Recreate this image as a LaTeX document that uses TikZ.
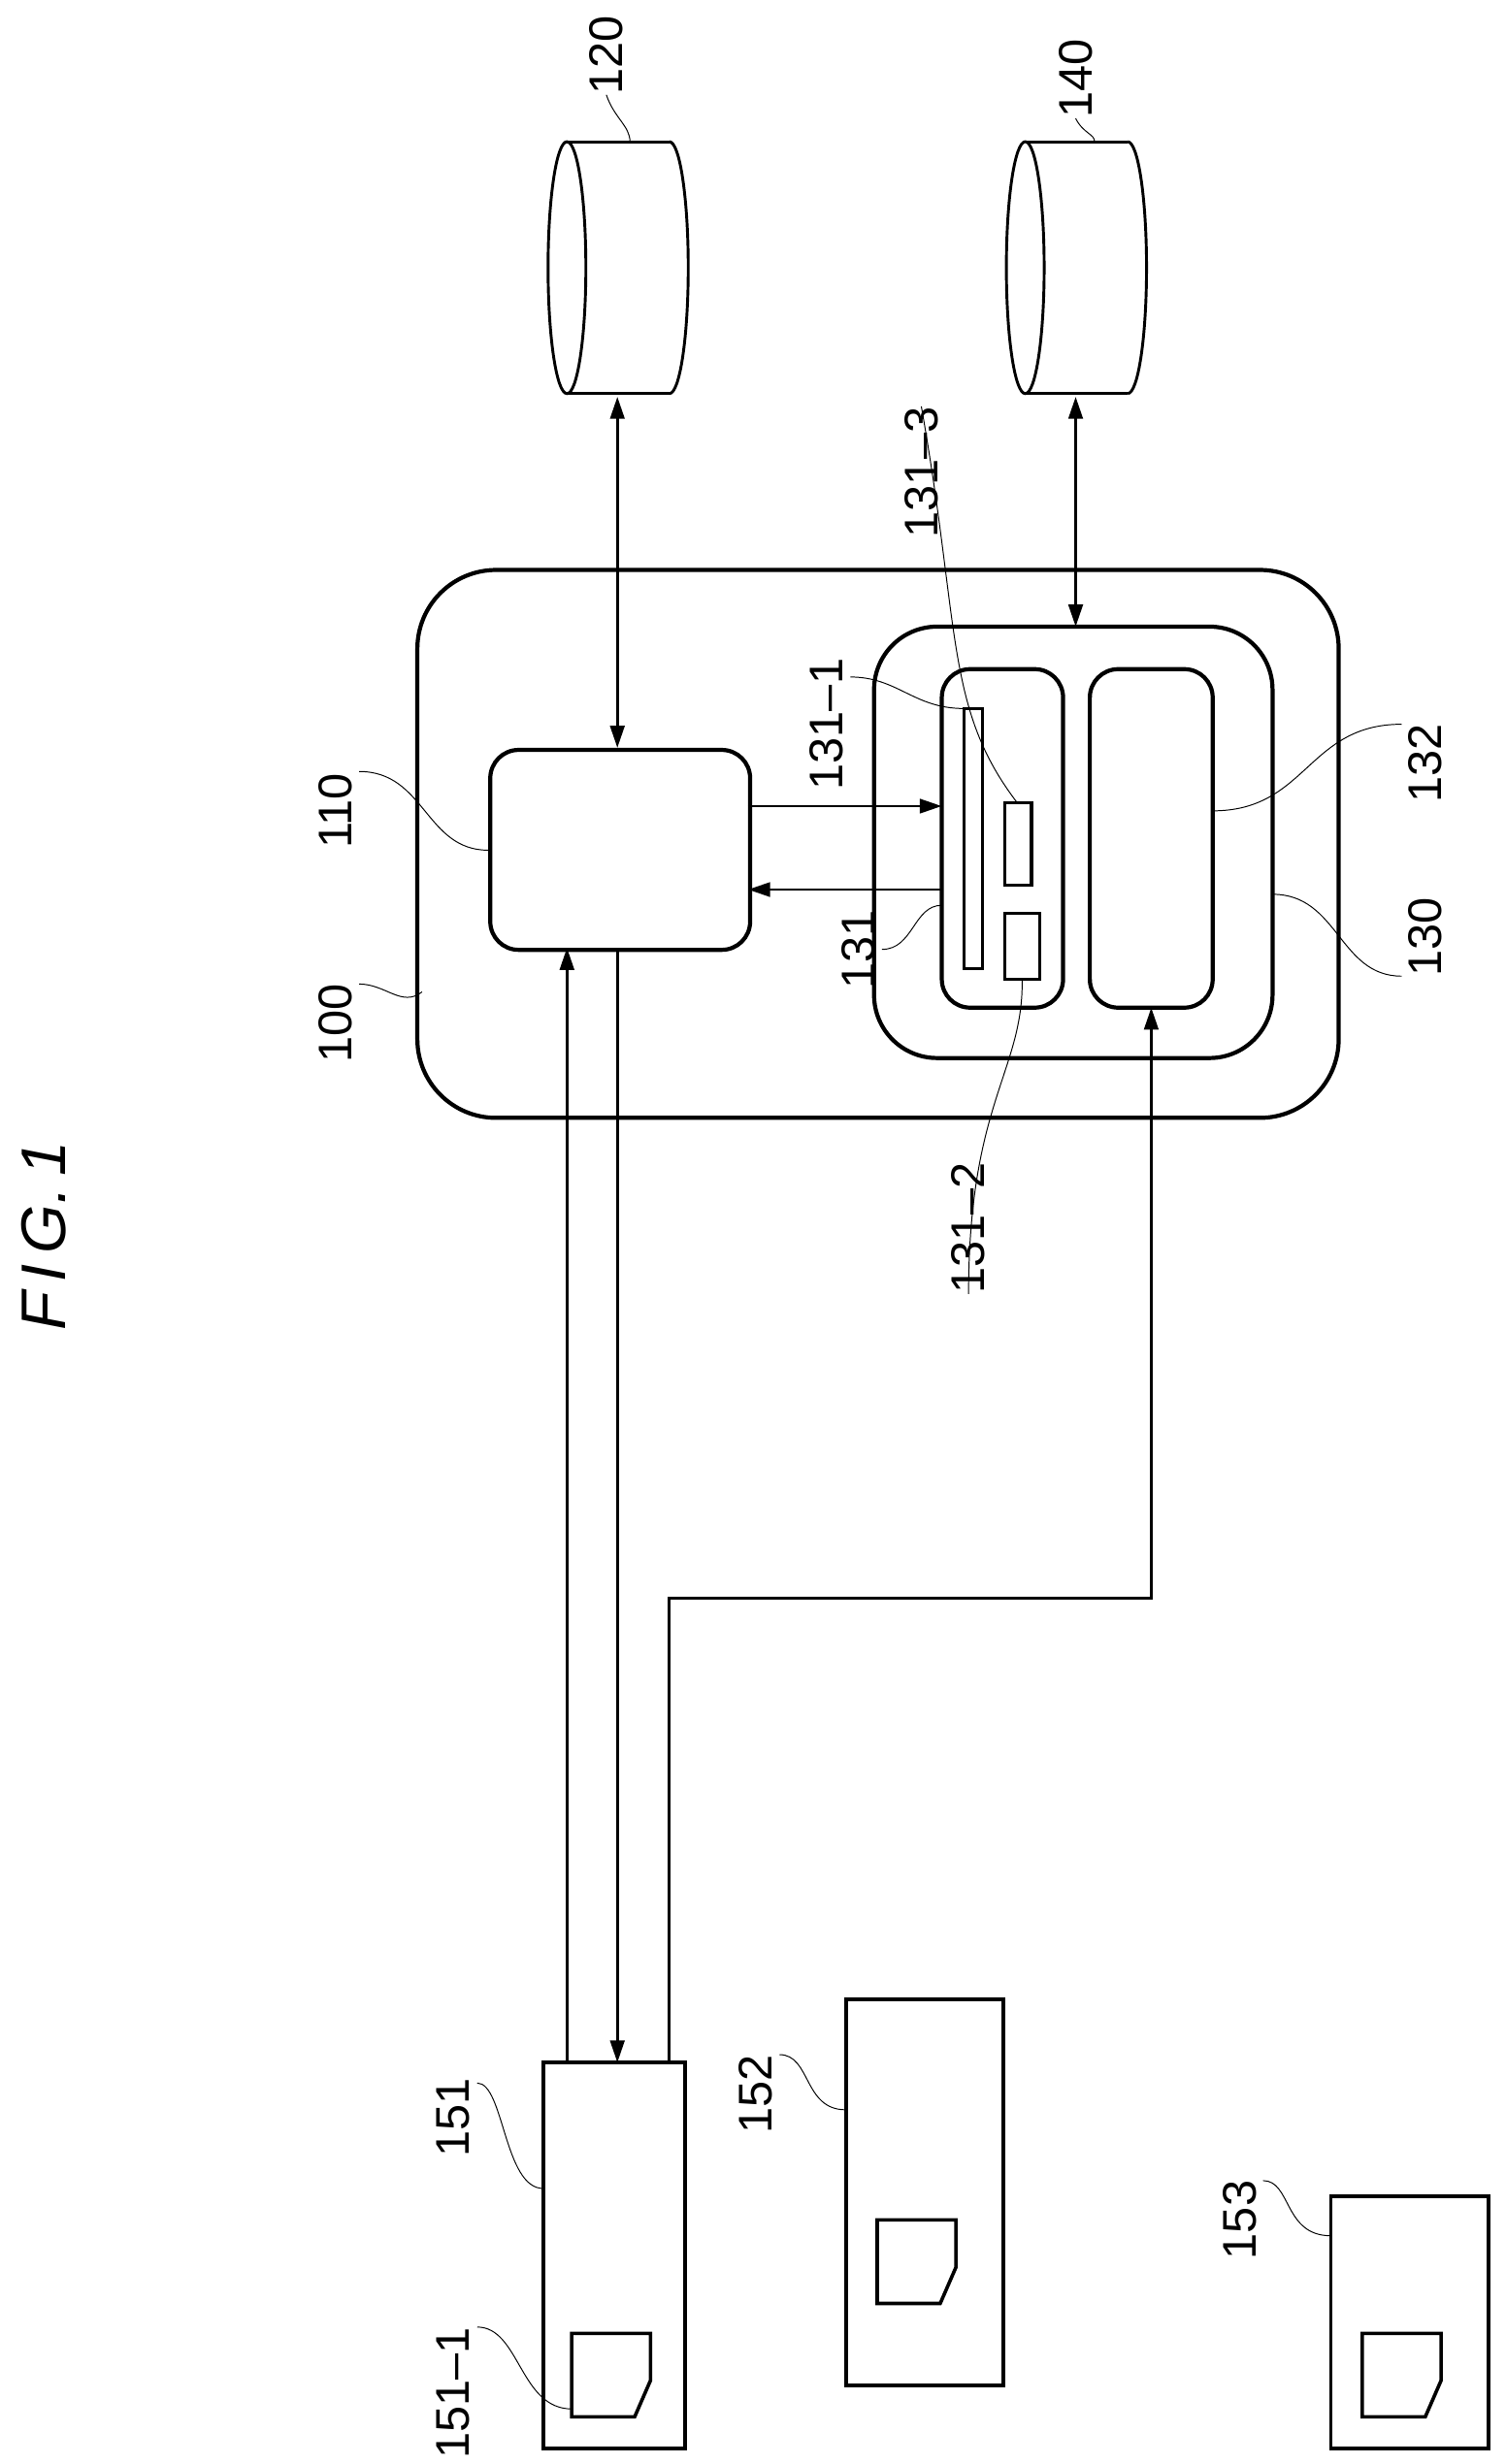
\documentclass[tikz,border=0pt]{standalone}
\usepackage{fontspec}
\setmainfont{Liberation Sans}
\usetikzlibrary{arrows.meta}
\begin{document}
\begin{tikzpicture}[x=1pt,y=-1pt,
  box/.style={draw,line width=2.6pt,rounded corners=#1},
  thk/.style={line width=1.8pt},
  lead/.style={line width=0.6pt},
  arr/.style={thk,-{Triangle[length=14pt,width=9pt]}},
  darr/.style={thk,{Triangle[length=14pt,width=9pt]}-{Triangle[length=14pt,width=9pt]}},
  lbl/.style={font=\fontsize{30}{30}\selectfont,rotate=90,inner sep=0pt}]
\useasboundingbox (0,0) rectangle (956,1565);
% boxes
\draw[box=50pt] (265,362) rectangle (850,710);
\node[draw,line width=2.6pt,rounded corners=18pt,minimum width=165pt,minimum height=127pt,anchor=north west] (n110) at (310,475) {};
\draw[box=40pt] (555,398) rectangle (808,672);
\coordinate (n130top) at (683,398);
\draw[box=18pt] (598,425) rectangle (675,640);
\draw[line width=2pt] (612,450) rectangle (624,615);
\draw[line width=2pt] (638,510) rectangle (655,562);
\draw[line width=2pt] (638,580) rectangle (660,622);
\draw[box=18pt] (692,425) rectangle (770,640);
\coordinate (n132b) at (731,640);
\coordinate (n131a) at (598,512);
\coordinate (n131b) at (598,565);
% cylinders
\foreach \cx/\nm in {392/c120,683/c140}{
  \draw[thk] (\cx-32,90) -- (\cx+33,90);
  \draw[thk] (\cx-32,250) -- (\cx+33,250);
  \draw[thk] (\cx-32,170) ellipse (12 and 80);
  \draw[thk] (\cx+33,90) arc[start angle=-90,end angle=90,x radius=12,y radius=80];
  \coordinate (\nm) at (\cx,252);
}
% cards
\draw[line width=2.4pt] (345,1310) rectangle (435,1555);
\draw[line width=2.4pt] (537,1270) rectangle (637,1515);
\draw[line width=2.4pt] (845,1395) rectangle (945,1555);
\foreach \x/\y in {363/1482,557/1410,865/1482}{
  \draw[line width=2.2pt] (\x,\y) -- (\x+50,\y) -- (\x+50,\y+30) -- (\x+40,\y+53) -- (\x,\y+53) -- cycle;}
\coordinate (p151a) at (360,1310);
\coordinate (p151b) at (392,1310);
\coordinate (p151c) at (425,1310);
% arrows
\draw[darr] (c120) -- (392,475);
\draw[darr] (c140) -- (n130top);
\draw[arr] (475,512) -- (n131a);
\draw[arr] (n131b) -- (475,565);
\draw[arr] (p151a) -- (360,602);
\draw[arr] (392,602) -- (p151b);
\draw[arr] (p151c) -- (425,1015) -- (731,1015) -- (n132b);
% labels
\node[lbl] (l120) at (385,35) {120};
\node[lbl] (l140) at (683,50) {140};
\node[lbl] (l100) at (213,650) {100};
\node[lbl] (l110) at (213,515) {110};
\node[lbl] (l1311) at (525,460) {131‒1};
\node[lbl] (l1313) at (585,300) {131‒3};
\node[lbl] (l131) at (545,603) {131};
\node[lbl] (l1312) at (615,780) {131‒2};
\node[lbl] (l132) at (905,485) {132};
\node[lbl] (l130) at (905,595) {130};
\node[lbl] (l151) at (288,1345) {151};
\node[lbl] (l1511) at (288,1520) {151‒1};
\node[lbl] (l152) at (480,1330) {152};
\node[lbl] (l153) at (787,1410) {153};
\node[font=\fontsize{40}{40}\selectfont\itshape,rotate=90,inner sep=0pt] (fig) at (28,785) {F\,I\,G.\,1};
% leaders
\draw[lead] (l120.west) .. controls (390,75) and (400,80) .. (400,90);
\draw[lead] (l140.west) .. controls (688,85) and (695,85) .. (695,90);
\draw[lead] (228,625) .. controls (245,625) and (255,640) .. (268,630);
\draw[lead] (228,490) .. controls (270,490) and (270,540) .. (310,540);
\draw[lead] (540,430) .. controls (570,430) and (580,450) .. (612,450);
\draw[lead] (l1313.east) .. controls (610,400) and (600,450) .. (646,510);
\draw[lead] (560,603) .. controls (580,603) and (580,575) .. (598,575);
\draw[lead] (l1312.west) .. controls (615,700) and (650,680) .. (649,622);
\draw[lead] (890,460) .. controls (830,460) and (830,515) .. (770,515);
\draw[lead] (890,620) .. controls (850,620) and (850,568) .. (808,568);
\draw[lead] (303,1323) .. controls (320,1323) and (320,1390) .. (345,1390);
\draw[lead] (303,1478) .. controls (330,1478) and (330,1530) .. (363,1530);
\draw[lead] (495,1305) .. controls (515,1305) and (510,1340) .. (537,1340);
\draw[lead] (802,1385) .. controls (820,1385) and (815,1420) .. (845,1420);
\end{tikzpicture}
\end{document}
